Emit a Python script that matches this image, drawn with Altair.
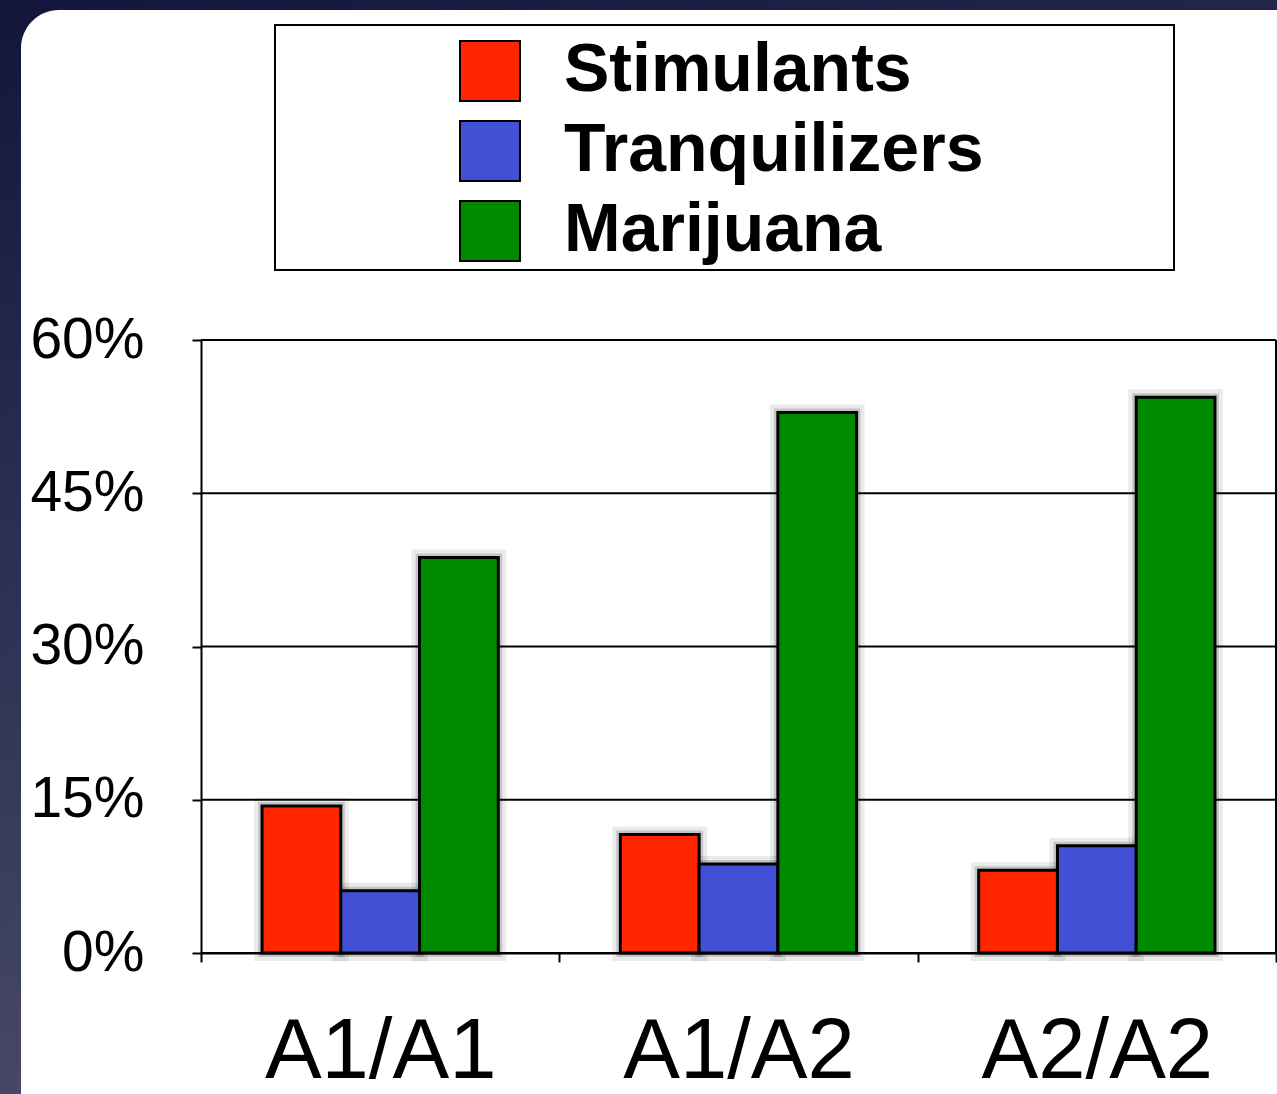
import altair as alt
import pandas as pd

# Genotype groups, drug categories and share of users (%)
genotypes = ["A1/A1", "A1/A2", "A2/A2"]
drugs = ["Stimulants", "Tranquilizers", "Marijuana"]
stimulants = [14.4, 11.6, 8.1]
tranquilizers = [6.1, 8.7, 10.5]
marijuana = [38.7, 52.9, 54.4]
drug_colors = ["#ff2600", "#4250d6", "#008a00"]
y_ticks = [0, 15, 30, 45, 60]

rows = []
for i, g in enumerate(genotypes):
    for d, vals in zip(drugs, [stimulants, tranquilizers, marijuana]):
        rows.append({"genotype": g, "drug": d, "pct": vals[i]})
bars_df = pd.DataFrame(rows)
ticks_df = pd.DataFrame({"tick": y_ticks})
one = pd.DataFrame({"k": [0]})

W, H = 1075, 613
PAD = {"left": 201, "top": 340, "right": 1, "bottom": 141}
FONT = "Liberation Sans"

# each genotype fills a whole step; the bars sit in its middle two thirds
x_scale = alt.Scale(domain=genotypes, paddingInner=0, paddingOuter=0)
y_scale = alt.Scale(domain=[0, 60], nice=False, zero=True)
x_axis = alt.Axis(
    title=None, labelFont=FONT, labelFontSize=85, labelColor="#000",
    labelPadding=48, labelLimit=600, labelOverlap=False, tickBand="extent",
    tickColor="#000", tickSize=9, tickWidth=2, domainColor="#000",
    domainWidth=2, grid=False, zindex=1, labelAngle=0,
)
y_axis = alt.Axis(
    title=None, values=y_ticks, labelExpr="datum.value + '%'", labelFont=FONT,
    labelFontSize=57, labelColor="#000", labelPadding=48, tickColor="#000",
    tickSize=9, tickWidth=2, domainColor="#000", domainWidth=2, grid=False,
    zindex=1,
)

X = alt.X("genotype:N", scale=x_scale, axis=x_axis, sort=genotypes)
XO = alt.XOffset(
    "drug:N", sort=drugs,
    scale=alt.Scale(paddingInner=0.0, paddingOuter=0.775),
)
Y = alt.Y("pct:Q", scale=y_scale, axis=y_axis)

# slide background with a soft navy gradient
background = alt.Chart(one).mark_rect(
    fill=alt.Gradient(
        gradient="linear", x1=0, x2=0.3, y1=0, y2=1,
        stops=[alt.GradientStop(color="#14153a", offset=0),
               alt.GradientStop(color="#2c2e52", offset=0.45),
               alt.GradientStop(color="#4a4c68", offset=1)],
    )
).encode(
    x=alt.value(-PAD["left"]), x2=alt.value(W + PAD["right"]),
    y=alt.value(-PAD["top"]), y2=alt.value(H + PAD["bottom"]),
)

# white rounded card running off the right and bottom edges
card = alt.Chart(one).mark_rect(fill="white", cornerRadius=38).encode(
    x=alt.value(-180), x2=alt.value(W + 60),
    y=alt.value(-330), y2=alt.value(H + PAD["bottom"] + 60),
)

# frame around the legend
legend_box = alt.Chart(one).mark_rect(
    fill="white", stroke="#000", strokeWidth=2
).encode(
    x=alt.value(74), x2=alt.value(973),
    y=alt.value(-315), y2=alt.value(-70),
)

gridlines = alt.Chart(ticks_df).mark_rule(color="#000", strokeWidth=2).encode(
    y=alt.Y("tick:Q", scale=y_scale, axis=y_axis),
    x=alt.value(0), x2=alt.value("width"),
)

right_edge = alt.Chart(one).mark_rule(color="#000", strokeWidth=2).encode(
    x=alt.value("width"), y=alt.value(0), y2=alt.value("height"),
)

# soft drop shadow around the bars
shadow_wide = alt.Chart(bars_df).mark_bar(
    fill=None, stroke="#000", strokeOpacity=0.08, strokeWidth=16
).encode(x=X, xOffset=XO, y=Y)
shadow_narrow = alt.Chart(bars_df).mark_bar(
    fill=None, stroke="#000", strokeOpacity=0.16, strokeWidth=8
).encode(x=X, xOffset=XO, y=Y)

bars = alt.Chart(bars_df).mark_bar(stroke="#000", strokeWidth=3).encode(
    x=X, xOffset=XO, y=Y,
    color=alt.Color(
        "drug:N", sort=drugs,
        scale=alt.Scale(domain=drugs, range=drug_colors),
        legend=alt.Legend(
            title=None, orient="none", legendX=255, legendY=-303,
            symbolType="square", symbolSize=3600, symbolStrokeColor="#000",
            symbolStrokeWidth=2, symbolOpacity=1, labelFont=FONT,
            labelFontSize=68, labelFontWeight="bold", labelColor="#000",
            labelOffset=40, rowPadding=12, padding=0, labelLimit=0,
        ),
    ),
)

chart = alt.layer(
    background, card, legend_box, gridlines, right_edge,
    shadow_wide, shadow_narrow, bars,
).properties(
    width=W, height=H, padding=PAD,
    autosize=alt.AutoSizeParams(type="none"),
).configure_view(stroke=None)

chart.save("out.html", embed_options={"renderer": "svg", "actions": False})
